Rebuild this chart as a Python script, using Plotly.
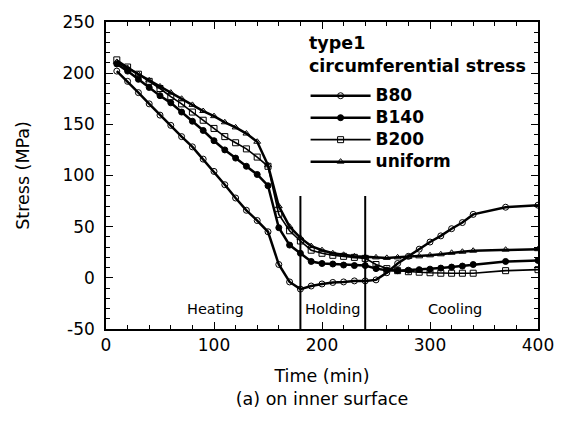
import plotly.graph_objects as go

# time points (min)
time = [10, 20, 30, 40, 50, 60, 70, 80, 90, 100, 110, 120, 130, 140, 150, 160, 170, 180,
        190, 200, 210, 220, 230, 240,
        250, 260, 270, 280, 290, 300, 310, 320, 330, 340, 370, 400]

b80 = [202, 192, 181, 170, 159, 149, 138, 128, 116, 104, 91, 78, 66, 56, 45, 13, -4, -11,
       -8, -6, -4.5, -4, -3, -3,
       -2, 5, 14, 21, 28, 35, 41, 48, 54, 62, 69, 71]

b140 = [209, 202, 194, 186, 178, 171, 162, 153, 144, 134, 125, 117, 109, 101, 90, 49, 32, 24,
        16, 14, 13.5, 12.5, 12, 12,
        9, 7.5, 7, 7.5, 8, 8.5, 9.5, 10.5, 11.5, 13, 16, 17]

b200 = [213, 206, 199, 192, 185, 177, 170, 162, 154, 146, 138, 132, 126, 118, 109, 62, 46, 36,
        27, 24, 22, 21, 20, 19,
        13, 9, 7, 6, 5.5, 5, 4.5, 4.5, 4.5, 4.5, 7, 8]

uniform = [211, 205, 199, 193, 187, 181, 175, 169, 163, 158, 152, 147, 141, 133, 110, 70, 50, 39,
           31, 27, 24, 22.5, 21, 20.5,
           20, 19.5, 20, 20.5, 21, 22, 23, 24.5, 25.5, 26.5, 27.5, 28]

series_names = ["B80", "B140", "B200", "uniform"]
legend_title = "type1<br>circumferential stress"

x_ticks = [0, 100, 200, 300, 400]
y_ticks = [-50, 0, 50, 100, 150, 200, 250]
y_tick_text = ["-50", "0", "50", "100", "150", "200", "250"]

phase_bounds = [180, 240]
phase_labels = ["Heating", "Holding", "Cooling"]
phase_label_x = [101, 210, 323]

FONT = "DejaVu Sans, Arial, sans-serif"

fig = go.Figure()
styles = [("circle-open", 2.5), ("circle", 2.5), ("square-open", 1.6), ("triangle-up-open", 2.5)]
for name, ys, (sym, lw) in zip(series_names, [b80, b140, b200, uniform], styles):
    fig.add_trace(go.Scatter(
        x=time, y=ys, name="<span style='font-size:17px'>%s</span>" % name,
        mode="lines+markers",
        line=dict(color="black", width=lw),
        marker=dict(symbol=sym, size=6, color="black", line=dict(color="black", width=1)),
    ))

for xb in phase_bounds:
    fig.add_shape(type="line", x0=xb, x1=xb, y0=-50, y1=80, xref="x", yref="y",
                  line=dict(color="black", width=2))

for lab, xl in zip(phase_labels, phase_label_x):
    fig.add_annotation(x=xl, y=-30, text=lab, showarrow=False, xref="x", yref="y",
                       font=dict(family=FONT, size=14.5, color="black"))

fig.add_annotation(x=0.466, y=0.972, xref="paper", yref="paper", xanchor="left", yanchor="top",
                   align="left", showarrow=False, text=legend_title,
                   font=dict(family=FONT, size=17.5, color="black", weight="bold"))

fig.update_layout(
    width=567, height=421,
    margin=dict(l=106, r=29, t=19, b=92),
    paper_bgcolor="white", plot_bgcolor="white",
    font=dict(family=FONT, color="black"),
    showlegend=True,
    legend=dict(
        x=0.462, y=0.812, xanchor="left", yanchor="top",
        bgcolor="rgba(0,0,0,0)",
        font=dict(family=FONT, size=14.6, color="black", weight="bold"),
        itemwidth=60,
        tracegroupgap=0,
    ),
)

fig.update_xaxes(
    range=[0, 400], tickvals=x_ticks,
    ticks="inside", ticklen=7, tickwidth=1.2, tickcolor="black",
    minor=dict(ticks="inside", dtick=20, ticklen=4, tickcolor="black"),
    showline=True, linecolor="black", linewidth=1.5, mirror="ticks",
    showgrid=False, zeroline=False,
    tickfont=dict(family=FONT, size=17, color="black"),
    title=dict(text="Time (min)<br>(a) on inner surface",
               font=dict(family=FONT, size=17.5, color="black"), standoff=16),
)
fig.update_yaxes(
    range=[-50, 250], tickvals=y_ticks, ticktext=y_tick_text,
    ticks="inside", ticklen=7, tickwidth=1.2, tickcolor="black",
    minor=dict(ticks="inside", dtick=10, ticklen=4, tickcolor="black"),
    showline=True, linecolor="black", linewidth=1.5, mirror="ticks",
    showgrid=False, zeroline=False,
    tickfont=dict(family=FONT, size=17, color="black"),
    ticklabelstandoff=6,
    title=dict(text="Stress (MPa)", font=dict(family=FONT, size=17.5, color="black"), standoff=28),
)

fig.write_html("out.html")
